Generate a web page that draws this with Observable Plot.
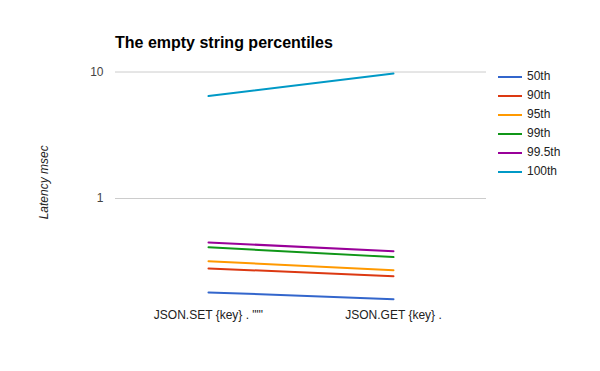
<!DOCTYPE html>
<html>
<head>
<meta charset="utf-8">
<script src="https://cdn.jsdelivr.net/npm/d3@7"></script>
<script src="https://cdn.jsdelivr.net/npm/@observablehq/plot@0.6"></script>
<style>
  body { margin: 0; background: #fff; }
  #chart { position: relative; width: 600px; height: 371px; font-family: Arial, "Liberation Sans", sans-serif; }
  #title { position: absolute; left: 115px; top: 35px; font-size: 16px; line-height: 16px; font-weight: bold; color: #000; white-space: nowrap; }
  #legend { position: absolute; left: 498px; top: 67px; font-size: 12px; color: #222; }
  #legend .row { height: 19px; line-height: 19px; display: flex; align-items: center; white-space: nowrap; }
  #legend .sw { width: 24px; height: 2px; margin-right: 5px; }
  #chart svg { position: absolute; left: 0; top: 0; }
  #chart svg [aria-label="y-axis label"] text { font-style: italic; fill: #222; }
</style>
</head>
<body>
<div id="chart">
  <div id="title"></div>
  <div id="legend"></div>
</div>
<script>
const title = "The empty string percentiles";
const categories = ['JSON.SET {key} . ""\'', "JSON.GET {key} ."];
const seriesNames = ["50th", "90th", "95th", "99th", "99.5th", "100th"];
const p50   = [0.181, 0.160];
const p90   = [0.280, 0.243];
const p95   = [0.319, 0.271];
const p99   = [0.412, 0.344];
const p995  = [0.449, 0.383];
const p100  = [6.46, 9.73];
const yTicks = [1, 10];
const yLabel = "Latency msec";
const colors = ["#3366cc", "#dc3912", "#ff9900", "#109618", "#990099", "#0099c6"];

const seriesValues = [p50, p90, p95, p99, p995, p100];
const data = [];
seriesNames.forEach((s, i) => {
  categories.forEach((c, j) => data.push({series: s, cat: c, value: seriesValues[i][j]}));
});

document.getElementById("title").textContent = title;
const legend = document.getElementById("legend");
seriesNames.forEach((s, i) => {
  const row = document.createElement("div");
  row.className = "row";
  const sw = document.createElement("div");
  sw.className = "sw";
  sw.style.background = colors[i];
  const t = document.createElement("span");
  t.textContent = s;
  row.appendChild(sw);
  row.appendChild(t);
  legend.appendChild(row);
});

const plot = Plot.plot({
  width: 600,
  height: 371,
  marginLeft: 115,
  marginRight: 114,
  marginTop: 61.5,
  marginBottom: 68.8,
  style: {fontFamily: 'Arial, "Liberation Sans", sans-serif', fontSize: "12px", color: "#444", background: "transparent"},
  x: {type: "point", domain: categories, padding: 0.5},
  y: {type: "log", domain: [0.15, 12]},
  color: {domain: seriesNames, range: colors},
  marks: [
    Plot.ruleY(yTicks, {stroke: "#cccccc", strokeWidth: 1}),
    Plot.axisY({ticks: yTicks, tickSize: 0, tickPadding: 12, tickFormat: d => String(d), label: yLabel, labelAnchor: "center", labelArrow: "none", labelOffset: 76, fill: "#444"}),
    Plot.axisX({tickSize: 0, tickPadding: 8, label: null, fill: "#222"}),
    Plot.line(data, {x: "cat", y: "value", z: "series", stroke: "series", strokeWidth: 2})
  ]
});
document.getElementById("chart").appendChild(plot);
</script>
</body>
</html>
